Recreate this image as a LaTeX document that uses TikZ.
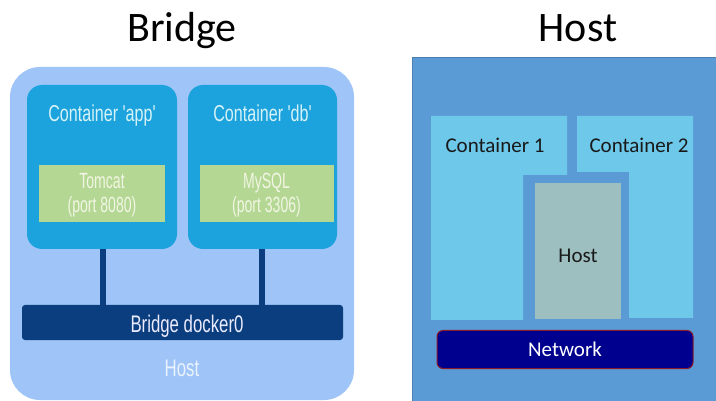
\documentclass[tikz,border=0pt]{standalone}
\usepackage{fontspec}
\setmainfont{Carlito}
\newfontfamily\narrowfont[FakeStretch=0.7]{Liberation Sans}
\newfontfamily\narrowerfont[FakeStretch=0.64]{Liberation Sans}
\definecolor{hostbg}{HTML}{9EC4F8}
\definecolor{ctrblue}{HTML}{1CA2DC}
\definecolor{appgreen}{HTML}{B4D894}
\definecolor{navy}{HTML}{0B3E7E}
\definecolor{ctrtext}{HTML}{D5F3F7}
\definecolor{apptext}{HTML}{F2F5E3}
\definecolor{panelbg}{HTML}{5B9BD5}
\definecolor{panelline}{HTML}{4A7FB0}
\definecolor{ctrlight}{HTML}{6DC8EA}
\definecolor{hostgray}{HTML}{9DBFBF}
\definecolor{netblue}{HTML}{00008F}
\definecolor{netline}{HTML}{8B1A2A}
\begin{document}
\begin{tikzpicture}[x=1pt,y=-1pt,
  title/.style={font=\fontsize{42}{46}\selectfont, text=black, anchor=base},
  ctrbox/.style={fill=ctrblue, rounded corners=15pt, inner sep=0pt},
  appbox/.style={fill=appgreen, inner sep=0pt},
  ctrlabel/.style={font=\narrowfont\fontsize{23}{26}\selectfont, text=ctrtext, anchor=base},
  applabel/.style={font=\narrowerfont\fontsize{22}{24}\selectfont, text=apptext, align=center, anchor=base},
  link/.style={draw=navy, line width=6pt},
  rlabel/.style={font=\fontsize{21}{24}\selectfont, text=black!90, anchor=base},
]
\useasboundingbox (0,0) rectangle (716,401);
\fill[white] (0,0) rectangle (716,401);

% ---------- Bridge ----------
\node[title] (bridgetitle) at (182,42) {Bridge};
\fill[hostbg, rounded corners=30pt] (10,67) rectangle (354,400);

\node[ctrbox, minimum width=150pt, minimum height=164pt] (app) at (102,167) {};
\node[ctrbox, minimum width=149pt, minimum height=164pt] (db) at (262.5,167) {};
\node[ctrlabel] (applbl) at (102,122) {Container 'app'};
\node[ctrlabel] (dblbl) at (262.5,122) {Container 'db'};

\node[appbox, minimum width=126pt, minimum height=57pt] (tomcat) at (102,194) {};
\node[applabel] (tomcatlbl) at (102,213) {Tomcat\\(port 8080)};
\node[appbox, minimum width=134pt, minimum height=57pt] (mysql) at (266.5,194) {};
\node[applabel] (mysqllbl) at (266.5,213) {MySQL\\(port 3306)};

\node[fill=navy, rounded corners=3pt, minimum width=321pt, minimum height=35pt, inner sep=0pt] (bridge) at (182.5,322.5) {};
\node[font=\narrowfont\fontsize{24}{28}\selectfont, text=white!92!blue, anchor=base] (bridgelbl) at (187,333) {Bridge docker0};
\draw[link] (app.south -| 103,0) -- (bridge.north -| 103,0);
\draw[link] (db.south -| 262,0) -- (bridge.north -| 262,0);

\node[font=\narrowfont\fontsize{24}{28}\selectfont, text=white!80!hostbg, anchor=base] (hostlbl) at (182,377) {Host};

% ---------- Host ----------
\node[title] (hosttitle) at (578,42) {Host};
\filldraw[fill=panelbg, draw=panelline, line width=0.8pt] (412,57) rectangle (717,402);

\fill[ctrlight] (431,116) -- (567,116) -- (567,175) -- (523,175) -- (523,320) -- (431,320) -- cycle;
\fill[ctrlight] (577,116) -- (693,116) -- (693,318) -- (629,318) -- (629,172) -- (577,172) -- cycle;
\node[rlabel] (c1) at (495,153) {Container 1};
\node[rlabel] (c2) at (639,153) {Container 2};

\node[fill=hostgray, minimum width=86pt, minimum height=136pt, inner sep=0pt] (hostbox) at (578,251) {};
\node[rlabel] (hostboxlbl) at (578,263) {Host};

\node[fill=netblue, draw=netline, line width=1pt, rounded corners=6pt, minimum width=256pt, minimum height=38pt,
      inner sep=0pt] (network) at (565,349.5) {};
\node[font=\fontsize{21}{24}\selectfont, text=white, anchor=base] (netlbl) at (565,356) {Network};
\end{tikzpicture}
\end{document}
